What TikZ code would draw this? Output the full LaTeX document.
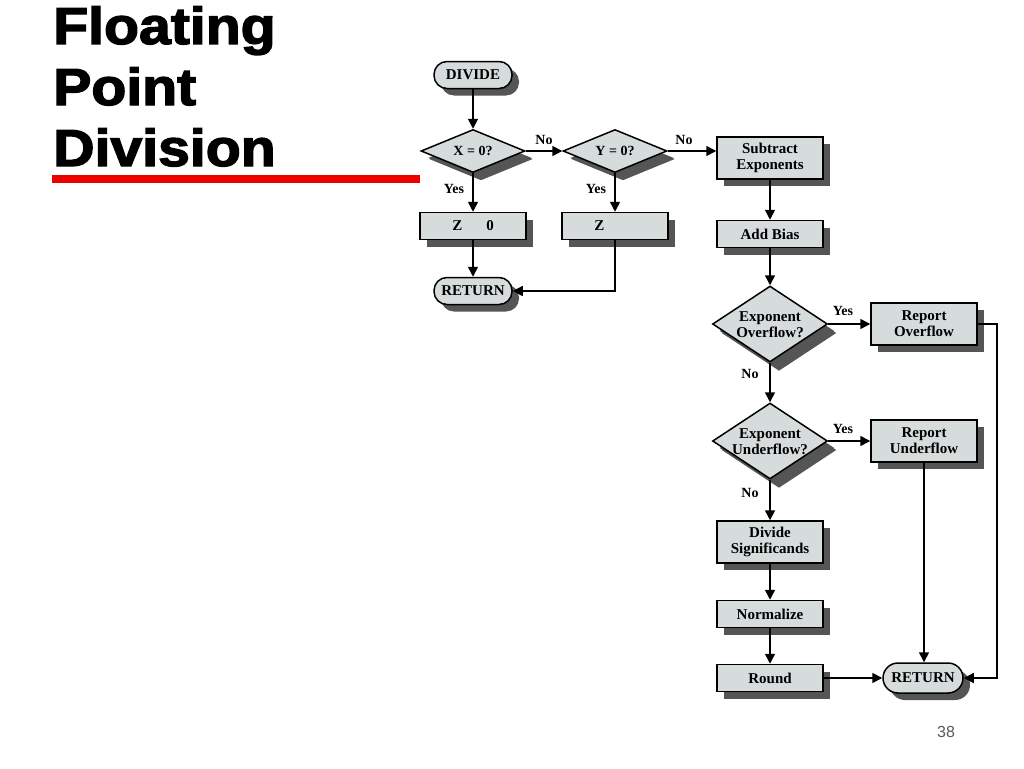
\documentclass[tikz,border=0pt]{standalone}
\usepackage{fontspec}
\setmainfont{Liberation Serif}
\newfontfamily\titlefont{Liberation Sans}
\newfontface\titleheavy{Liberation Sans Bold}[FakeBold=2.5]
\usetikzlibrary{shapes.geometric,shadows,arrows.meta}
\definecolor{boxfill}{RGB}{214,220,220}
\definecolor{shadowc}{RGB}{85,85,85}
\definecolor{pagenum}{RGB}{90,90,90}
\definecolor{titlered}{RGB}{238,0,0}
\tikzset{
  base/.style={draw=black, line width=1.5pt, fill=boxfill, inner sep=0pt,
    font=\bfseries\fontsize{15}{16}\selectfont, align=center,
    drop shadow={shadow xshift=7pt, shadow yshift=-7pt, fill=shadowc, opacity=1}},
  procbox/.style={base, rectangle, minimum width=106pt, minimum height=27pt},
  tallbox/.style={base, rectangle, minimum width=106pt, minimum height=42pt},
  termbox/.style={base, rectangle, rounded corners=13pt, minimum width=78pt, minimum height=27pt},
  decision/.style={base, diamond, minimum width=104pt, minimum height=43pt,
    drop shadow={shadow xshift=8pt, shadow yshift=-8pt, fill=shadowc, opacity=1}},
  bigdecision/.style={base, diamond, minimum width=115pt, minimum height=76pt,
    drop shadow={shadow xshift=9pt, shadow yshift=-9pt, fill=shadowc, opacity=1}},
  dtext/.style={font=\bfseries\fontsize{15}{16}\selectfont, align=center, inner sep=0pt},
  flow/.style={line width=1.5pt, -{Triangle[length=10pt,width=10pt]}},
  edgelabel/.style={font=\bfseries\fontsize{14}{15}\selectfont, inner sep=0pt},
  titletext/.style={anchor=base west, inner sep=0pt, font=\titleheavy\fontsize{52}{62}\selectfont, xscale=1.1},
}
\begin{document}
\begin{tikzpicture}[x=1pt,y=-1pt]
\useasboundingbox (0,0) rectangle (1024,768);
\fill[white] (0,0) rectangle (1024,768);

% title
\node[titletext] (t1) at (53,44) {Floating};
\node[titletext] (t2) at (53,105) {Point};
\node[titletext] (t3) at (53,166) {Division};
\fill[titlered] (52,175) rectangle (420,183);

% nodes
\node[termbox] (divide) at (473,75) {DIVIDE};
\node[decision] (x0) at (473,151) {};
\node[dtext, font=\bfseries\fontsize{14}{15}\selectfont] (x0t) at (473,151) {X = 0?};
\node[decision] (y0) at (615,151) {};
\node[dtext, font=\bfseries\fontsize{14}{15}\selectfont] (y0t) at (615,151) {Y = 0?};
\node[procbox] (zz) at (473,226) {Z\hspace{24pt}0};
\node[procbox] (zi) at (615,226) {Z\hspace{24pt}\phantom{0}};
\node[termbox] (ret1) at (473,291) {RETURN};

\node[tallbox] (sub) at (770,158) {Subtract\\Exponents};
\node[procbox] (bias) at (770,234) {Add Bias};
\node[bigdecision] (ovf) at (770,324) {};
\node[dtext] (ovft) at (770,325) {Exponent\\Overflow?};
\node[tallbox] (rov) at (924,324) {Report\\Overflow};
\node[bigdecision] (unf) at (770,441) {};
\node[dtext] (unft) at (770,442) {Exponent\\Underflow?};
\node[tallbox] (run) at (924,441) {Report\\Underflow};
\node[tallbox] (divs) at (770,542) {Divide\\Significands};
\node[procbox] (norm) at (770,614) {Normalize};
\node[procbox] (rnd) at (770,678) {Round};
\node[termbox, minimum width=80pt, minimum height=30pt, rounded corners=15pt] (ret2) at (923,678) {RETURN};

% connectors
\draw[flow] (divide) -- (x0);
\draw[flow] (x0.east) -- (y0.west);
\draw[flow] (y0.east) -- (y0.east -| sub.west);
\draw[flow] (x0.south) -- (zz.north);
\draw[flow] (y0.south) -- (zi.north);
\draw[flow] (zz.south) -- (ret1.north);
\draw[flow] (zi.south) |- (ret1.east);
\draw[flow] (sub.south) -- (bias.north);
\draw[flow] (bias.south) -- (ovf.north);
\draw[flow] (ovf.east) -- (ovf.east -| rov.west);
\draw[flow] (ovf.south) -- (unf.north);
\draw[flow] (unf.east) -- (unf.east -| run.west);
\draw[flow] (unf.south) -- (divs.north);
\draw[flow] (divs.south) -- (norm.north);
\draw[flow] (norm.south) -- (rnd.north);
\draw[flow] (rnd.east) -- (ret2.west);
\draw[flow] (run.south) -- (run.south |- ret2.north);
\coordinate (corner) at (997,324);
\draw[flow] (rov.east) -- (corner) |- (ret2.east);

% edge labels
\node[edgelabel] (no1) at (544,140) {No};
\node[edgelabel] (no2) at (684,140) {No};
\node[edgelabel] (yes1) at (454,189) {Yes};
\node[edgelabel] (yes2) at (596,189) {Yes};
\node[edgelabel] (yes3) at (843,311) {Yes};
\node[edgelabel] (no3) at (750,374) {No};
\node[edgelabel] (yes4) at (843,429) {Yes};
\node[edgelabel] (no4) at (750,493) {No};

% page number
\node[font=\titlefont\fontsize{16}{18}\selectfont, text=pagenum, inner sep=0pt] (pg) at (946,732) {38};
\end{tikzpicture}
\end{document}
